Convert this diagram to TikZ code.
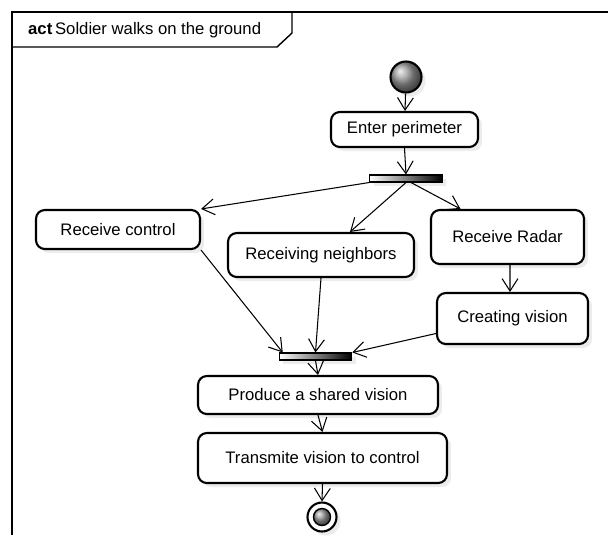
\documentclass[tikz,border=0pt]{standalone}
\usepackage{fontspec}
\setmainfont{Liberation Sans}
\usepackage{tikz}
\usetikzlibrary{arrows.meta,shadows,positioning}

\begin{document}
\begin{tikzpicture}[x=0.02cm,y=-0.02cm,
    >={Straight Barb[length=7pt,width=9pt]},
    font=\fontsize{9.5}{11}\selectfont,
    action node/.style={rectangle,rounded corners=5pt,draw,line width=1.2pt,fill=white,
        inner sep=0pt,drop shadow={shadow xshift=0.08cm,shadow yshift=-0.08cm,fill=black!15}},
    bar node/.style={rectangle,draw,line width=0.6pt,left color=white,right color=black,
        minimum width=1.45cm,minimum height=0.14cm,inner sep=0pt,
        drop shadow={shadow xshift=0.08cm,shadow yshift=-0.08cm,fill=black!15}},
    flow/.style={->,line width=0.6pt}]
  \useasboundingbox (0,0) rectangle (608,535);

  % frame and its name tab
  \draw[line width=0.8pt] (12,535) -- (12,12) -- (608,12);
  \draw[line width=0.8pt] (12,47) -- (277,47) -- (292,33) -- (292,12);
  \node[anchor=west] (title) at (22,30) {\textbf{act}\,Soldier walks on the ground};

  % start and end
  \node[circle,draw,line width=1.2pt,ball color=gray!80,minimum size=0.62cm,inner sep=0pt,
        drop shadow={shadow xshift=0.08cm,shadow yshift=-0.08cm,fill=black!15}] (start) at (406,77) {};
  \node[circle,draw,line width=1.2pt,fill=white,minimum size=0.58cm,inner sep=0pt,
        drop shadow={shadow xshift=0.08cm,shadow yshift=-0.08cm,fill=black!15}] (end) at (322,517) {};
  \node[circle,draw,line width=0.8pt,ball color=gray!80,minimum size=0.34cm,inner sep=0pt] (endin) at (end) {};

  % actions
  \node[action node,minimum width=2.94cm,minimum height=0.70cm] (ep) at (404.5,129.5) {Enter perimeter};
  \node[bar node] (fork) at (406,178.5) {};
  \node[action node,minimum width=3.28cm,minimum height=0.78cm] (rc) at (118,229.5) {Receive control};
  \node[action node,minimum width=3.72cm,minimum height=0.88cm] (rn) at (321,255) {Receiving neighbors};
  \node[action node,minimum width=3.06cm,minimum height=1.08cm] (rr) at (507.5,237) {Receive Radar};
  \node[action node,minimum width=3.02cm,minimum height=1.02cm] (cv) at (512.5,318.5) {Creating vision};
  \node[bar node] (join) at (315.5,356.5) {};
  \node[action node,minimum width=4.80cm,minimum height=0.76cm] (ps) at (318,395) {Produce a shared vision};
  \node[action node,minimum width=4.98cm,minimum height=1.00cm] (tv) at (322.5,458) {Transmite vision to control};

  \path[flow]
    (start) edge (ep)
    (ep.south) edge (fork.north)
    (fork.south west) edge (rc.north east)
    (fork.south) edge ([xshift=0.58cm]rn.north)
    ([xshift=0.1cm]fork.south) edge ([xshift=-0.94cm]rr.north)
    (rc.south east) edge ([xshift=0.08cm]join.north west)
    (rn.south) edge (join.north)
    ([xshift=0.05cm]rr.south) edge ([xshift=-0.05cm]cv.north)
    ([yshift=-0.3cm]cv.west) edge (join.north east)
    (join.south) edge (ps.north)
    (ps.south) edge (tv.north)
    (tv.south) edge (end.north)
    ;
\end{tikzpicture}
\end{document}
